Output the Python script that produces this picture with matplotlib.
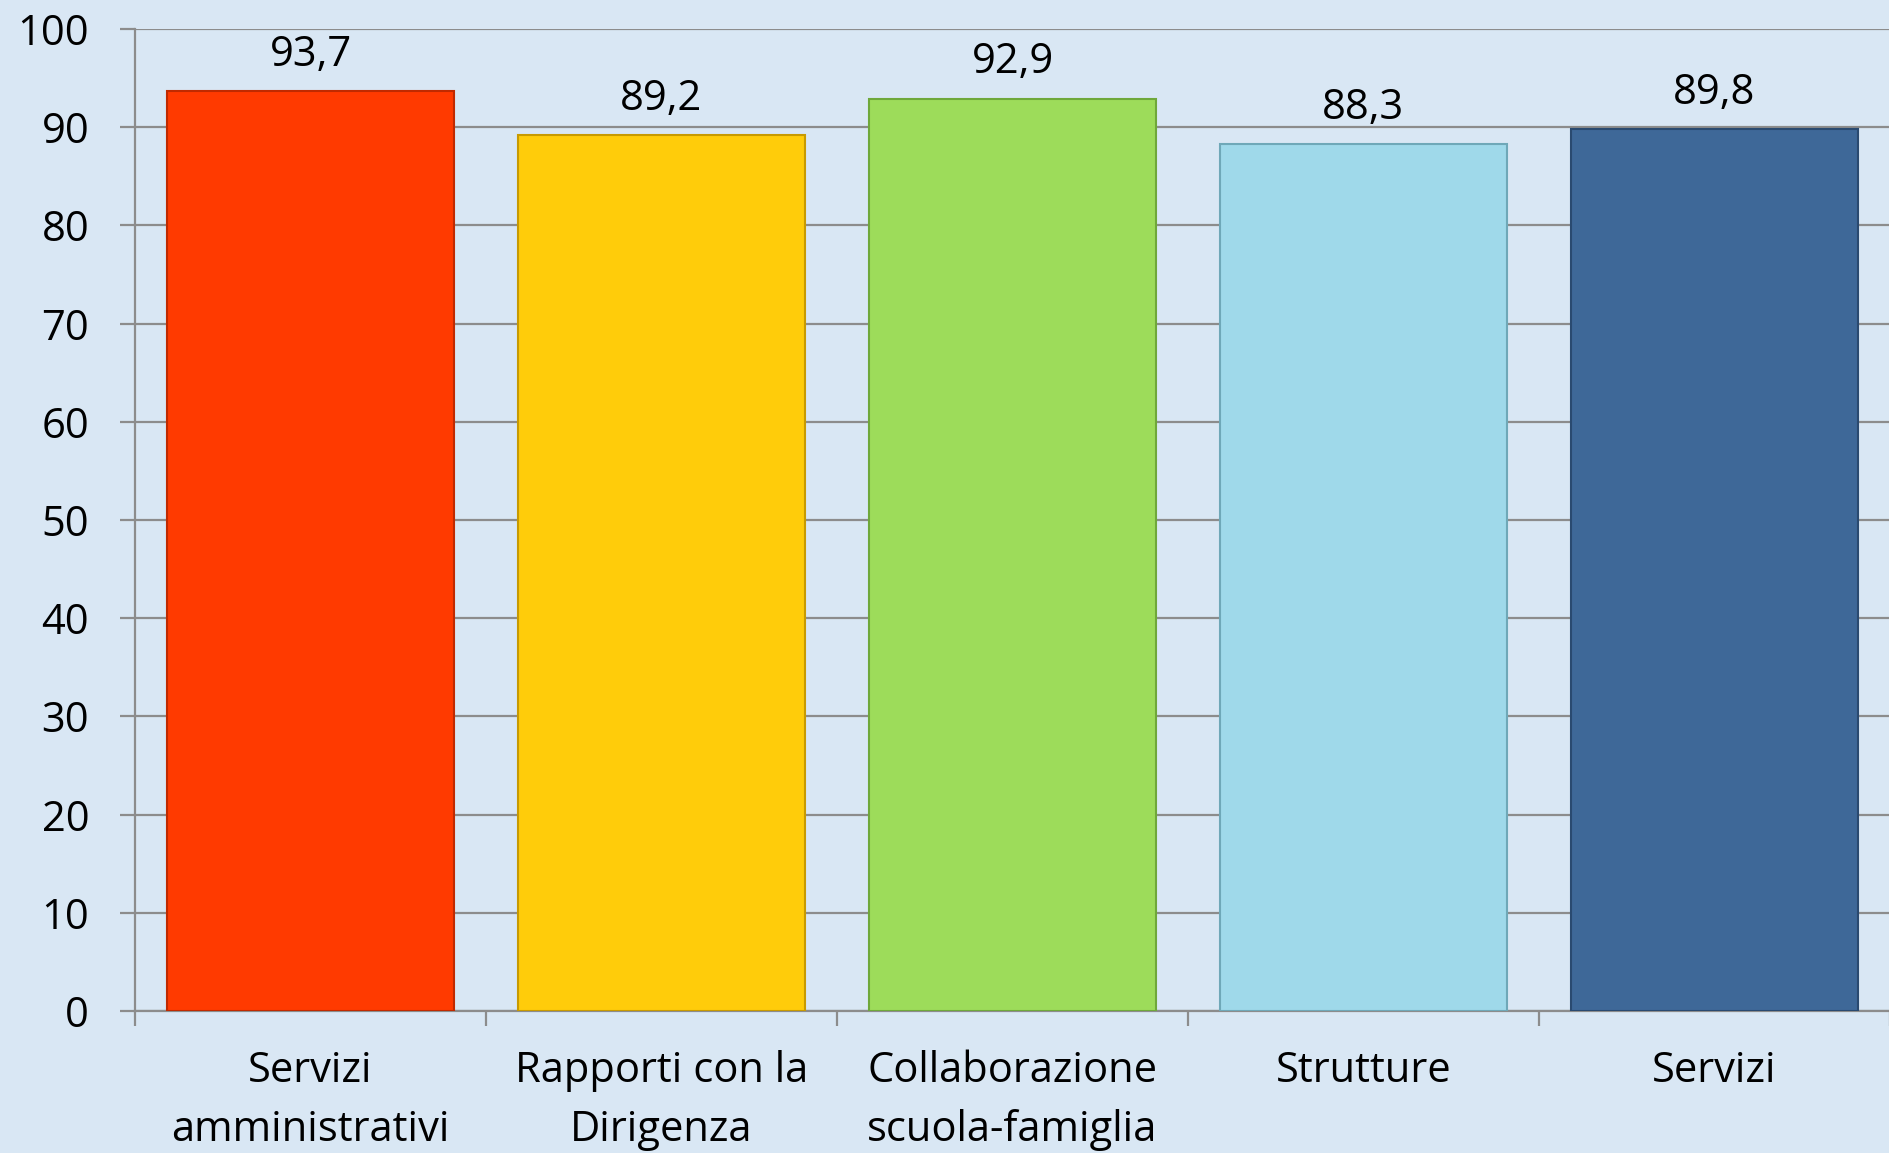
import matplotlib
matplotlib.use("Agg")
import matplotlib.pyplot as plt
import numpy as np

CATEGORIES = ["Servizi\namministrativi", "Rapporti con la\nDirigenza",
              "Collaborazione\nscuola-famiglia", "Strutture", "Servizi"]
VALUES = [93.7, 89.2, 92.9, 88.3, 89.8]
COLORS = ["#ff3a00", "#ffcc0a", "#9ddc5a", "#9fd9ea", "#3e6898"]
EDGES = ["#c02a00", "#c89a00", "#6fa83a", "#6fa8b8", "#2a4a70"]
Y_TICKS = list(range(0, 101, 10))

BG = "#d9e7f4"
GRID = "#8c8c8c"

plt.rcParams["font.family"] = ["Open Sans", "DejaVu Sans"]

fig = plt.figure(figsize=(18.9, 11.53), dpi=100, facecolor=BG)
ax = fig.add_axes([135 / 1890, 1 - 1011 / 1153, 1755 / 1890, 982 / 1153])
ax.set_facecolor(BG)

x = np.arange(len(CATEGORIES))
bars = ax.bar(x, VALUES, width=0.82, color=COLORS, edgecolor=EDGES,
              linewidth=1.5, zorder=3)

for b, v in zip(bars, VALUES):
    ax.annotate(f"{v:.1f}".replace(".", ","),
                (b.get_x() + b.get_width() / 2, v),
                xytext=(0, 11), textcoords="offset points",
                ha="center", va="bottom", fontsize=30, color="black")

ax.set_xlim(-0.5, len(CATEGORIES) - 0.5)
ax.set_ylim(0, 100)
ax.set_yticks(Y_TICKS)
ax.set_yticklabels([str(t) for t in Y_TICKS], fontsize=30)
ax.yaxis.grid(True, color=GRID, linewidth=1.6, zorder=0)
ax.set_axisbelow(True)

# category boundaries as x ticks, labels placed at centres
ax.set_xticks(np.arange(len(CATEGORIES) + 1) - 0.5)
ax.set_xticklabels([])
ax.set_xticks(x, minor=True)
ax.set_xticklabels(CATEGORIES, minor=True, fontsize=30, linespacing=1.55)
ax.tick_params(axis="x", which="major", length=11, width=1.6, color=GRID,
               direction="out")
ax.tick_params(axis="x", which="minor", length=0, pad=28)
ax.tick_params(axis="y", length=11, width=1.6, color=GRID, pad=22)

for s in ["top", "right"]:
    ax.spines[s].set_visible(False)
for s in ["left", "bottom"]:
    ax.spines[s].set_color(GRID)
    ax.spines[s].set_linewidth(1.6)

fig.savefig("out.png", dpi=100, facecolor=BG)
